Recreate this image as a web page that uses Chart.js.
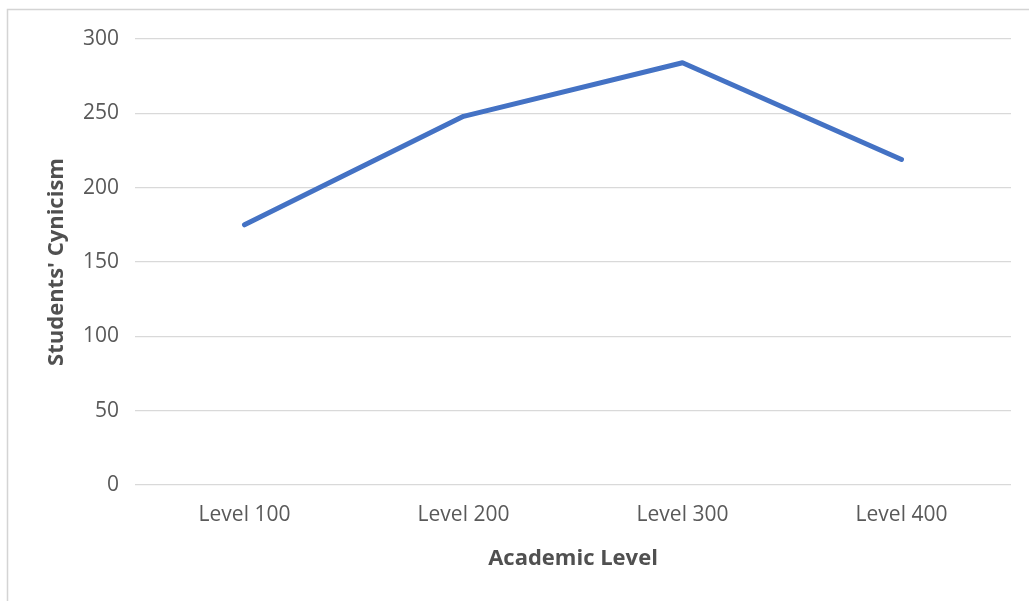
<!DOCTYPE html>
<html>
<head>
<meta charset="utf-8">
<script src="https://cdn.jsdelivr.net/npm/chart.js@4/dist/chart.umd.min.js"></script>
<style>
  html, body { margin: 0; padding: 0; background: #ffffff; }
  #wrap { width: 1029px; height: 601px; position: relative; }
</style>
</head>
<body>
<div id="wrap"><canvas id="chart" width="1029" height="601"></canvas></div>
<script>
// Cynicism score by academic level
const levels = ['Level 100', 'Level 200', 'Level 300', 'Level 400'];
const cynicism = [175, 248, 284, 219];
const yTicks = [0, 50, 100, 150, 200, 250, 300];

const textColor = '#595959';
const gridColor = '#d9d9d9';
const baseFont = "'Open Sans', 'Noto Sans', sans-serif";

// light frame along the top and left of the drawing
const framePlugin = {
  id: 'frame',
  beforeDraw(chart) {
    const ctx = chart.ctx;
    ctx.save();
    ctx.fillStyle = '#ffffff';
    ctx.fillRect(0, 0, chart.width, chart.height);
    ctx.strokeStyle = '#d4d4d4';
    ctx.lineWidth = 1.5;
    ctx.beginPath();
    ctx.moveTo(7.5, chart.height + 2);
    ctx.lineTo(7.5, 9.5);
    ctx.lineTo(chart.width + 2, 9.5);
    ctx.stroke();
    ctx.restore();
  }
};

new Chart(document.getElementById('chart'), {
  type: 'line',
  data: {
    labels: levels,
    datasets: [{
      label: "Students' Cynicism",
      data: cynicism,
      borderColor: '#4472C4',
      borderWidth: 5,
      borderCapStyle: 'round',
      borderJoinStyle: 'round',
      pointRadius: 0,
      pointHoverRadius: 0,
      tension: 0,
      fill: false
    }]
  },
  options: {
    responsive: false,
    animation: false,
    layout: { padding: { top: 39, right: 18, bottom: 0, left: 0 } },
    plugins: {
      legend: { display: false },
      tooltip: { enabled: false }
    },
    scales: {
      x: {
        offset: true,
        grid: { display: false, drawTicks: false },
        border: { display: false },
        ticks: {
          color: textColor,
          padding: 17,
          font: { family: baseFont, size: 21 }
        },
        title: {
          display: true,
          text: 'Academic Level',
          color: '#505050',
          font: { family: baseFont, size: 22, weight: 'bold' },
          padding: { top: 29, bottom: 29 }
        },
        afterFit(scale) { scale.height = 116; }
      },
      y: {
        min: 0,
        max: 300,
        afterBuildTicks(scale) { scale.ticks = yTicks.map(v => ({ value: v })); },
        grid: { color: gridColor, lineWidth: 1.3, drawTicks: false },
        border: { display: false },
        ticks: {
          color: textColor,
          padding: 16,
          font: { family: baseFont, size: 21 }
        },
        title: {
          display: true,
          text: "Students' Cynicism",
          color: '#505050',
          font: { family: baseFont, size: 22, weight: 'bold' },
          padding: { top: 44, bottom: 44 }
        },
        afterFit(scale) { scale.width = 135; }
      }
    }
  },
  plugins: [framePlugin]
});
</script>
</body>
</html>
